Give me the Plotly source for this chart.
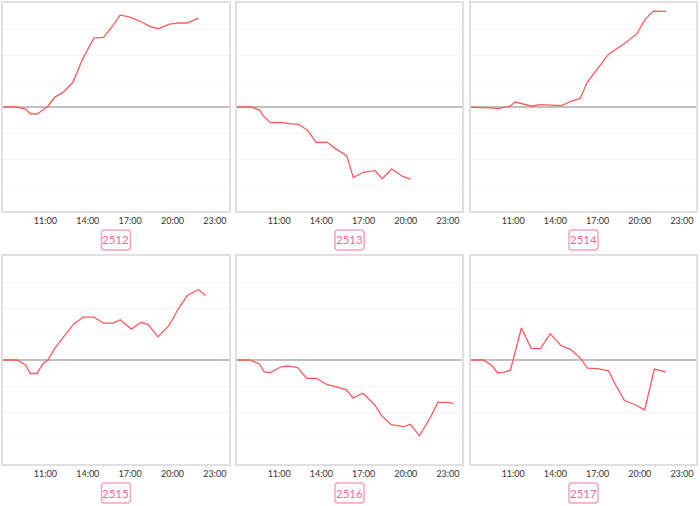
import plotly.graph_objects as go

DAY = "2024-01-01 "

# ---- data (time HH:MM, relative change) ----
t_2512 = ["08:00","08:57","09:36","09:56","10:25","10:50","11:11","11:40","12:15","12:57","13:40","14:26","15:07","15:47","16:18","16:58","17:47","18:23","18:58","19:47","20:23","21:03","21:50"]
v_2512 = [0, 0, -0.08, -0.26, -0.27, -0.10, 0.03, 0.38, 0.56, 0.95, 1.88, 2.65, 2.68, 3.13, 3.54, 3.46, 3.28, 3.10, 3.01, 3.19, 3.23, 3.23, 3.42]

t_2513 = ["08:00","09:00","09:37","09:53","10:22","11:11","11:40","12:22","12:58","13:38","14:23","15:05","15:48","16:16","16:59","17:49","18:20","19:00","19:49","20:22"]
v_2513 = [0, 0, -0.12, -0.35, -0.60, -0.59, -0.64, -0.67, -0.87, -1.36, -1.35, -1.63, -1.87, -2.71, -2.51, -2.45, -2.76, -2.38, -2.68, -2.77]

t_2514 = ["08:00","08:54","09:22","09:58","10:26","10:48","11:09","11:45","12:20","12:56","13:38","14:28","15:04","15:46","16:15","16:58","17:47","18:51","19:48","20:23","20:59","21:52"]
v_2514 = [-0.01, -0.01, -0.03, -0.06, 0, 0.04, 0.19, 0.10, 0.03, 0.09, 0.08, 0.05, 0.22, 0.33, 0.94, 1.47, 2.03, 2.41, 2.82, 3.37, 3.69, 3.68]

t_2515 = ["08:00","09:00","09:36","09:56","10:25","10:50","11:11","11:40","12:15","12:57","13:40","14:26","15:07","15:47","16:18","17:05","17:47","18:16","18:58","19:47","20:23","21:03","21:50","22:20"]
v_2515 = [0, 0, -0.19, -0.52, -0.52, -0.13, 0, 0.45, 0.86, 1.35, 1.65, 1.65, 1.42, 1.42, 1.55, 1.19, 1.45, 1.37, 0.89, 1.35, 1.94, 2.48, 2.71, 2.48]

t_2516 = ["08:00","08:54","09:36","09:55","10:21","11:08","11:37","12:19","12:57","13:40","14:23","15:05","15:47","16:15","16:58","17:47","18:17","18:58","19:52","20:20","20:58","21:45","22:17","22:56","23:24"]
v_2516 = [0, 0, -0.15, -0.45, -0.49, -0.26, -0.23, -0.29, -0.71, -0.71, -0.94, -1.03, -1.15, -1.46, -1.28, -1.72, -2.14, -2.49, -2.56, -2.47, -2.92, -2.21, -1.63, -1.63, -1.67]

t_2517 = ["08:00","08:54","09:32","09:54","10:22","10:48","11:35","12:17","12:56","13:38","14:24","15:04","15:46","16:17","17:00","17:47","18:20","18:55","19:41","20:21","21:02","21:52"]
v_2517 = [0, 0, -0.24, -0.50, -0.47, -0.40, 1.23, 0.45, 0.44, 1.01, 0.55, 0.41, 0.08, -0.31, -0.33, -0.42, -1.01, -1.56, -1.72, -1.92, -0.35, -0.46]

names = ["2512", "2513", "2514", "2515", "2516", "2517"]
times = [t_2512, t_2513, t_2514, t_2515, t_2516, t_2517]
values = [v_2512, v_2513, v_2514, v_2515, v_2516, v_2517]

tick_labels = ["11:00", "14:00", "17:00", "20:00", "23:00"]
x_start, x_end = "08:00", "24:00"
y_min, y_max = -4, 4

# ---- layout geometry (pixels) ----
W, H = 700, 506
col_px = [(3, 229), (237, 462), (471, 696)]
row_px = [(3, 211), (256, 464)]
label_y_px = [240, 493]

line_color = "#ff5a5a"
pink = "#f06a95"

fig = go.Figure()
layout = dict(
    width=W, height=H, margin=dict(l=0, r=0, t=0, b=0),
    paper_bgcolor="white", plot_bgcolor="white", showlegend=False,
    font=dict(family="Lato, Noto Sans, sans-serif", size=9, color="#333"),
)
annotations = []
shapes = []

def px(x): return x / W
def py(y): return 1 - y / H

for i, (name, ts, vs) in enumerate(zip(names, times, values)):
    r, c = divmod(i, 3)
    k = i + 1
    xs = [DAY + t for t in ts]
    fig.add_trace(go.Scatter(
        x=xs, y=vs, mode="lines",
        line=dict(color=line_color, width=1.3),
        xaxis=f"x{k}", yaxis=f"y{k}", hoverinfo="skip",
    ))
    x0, x1 = col_px[c]
    y0, y1 = row_px[r]
    layout[f"xaxis{k}"] = dict(
        domain=[x0 / W, x1 / W], anchor=f"y{k}", type="date",
        range=[DAY + x_start, "2024-01-02 00:00"],
        tickvals=[DAY + t for t in tick_labels], ticktext=tick_labels,
        showgrid=False, zeroline=False,
        showline=True, mirror=True, linecolor="#e0e0e0", linewidth=2,
        ticks="", tickfont=dict(size=9, color="#333"),
    )
    layout[f"yaxis{k}"] = dict(
        domain=[1 - y1 / H, 1 - y0 / H], anchor=f"x{k}",
        range=[y_min, y_max], dtick=1, showticklabels=False,
        showgrid=True, gridcolor="#f6f6f6", gridwidth=1,
        zeroline=True, zerolinecolor="#c0c0c0", zerolinewidth=1.5,
        showline=True, mirror=True, linecolor="#e0e0e0", linewidth=2,
        ticks="",
    )
    annotations.append(dict(
        text=name, x=px((x0 + x1) / 2), y=py(label_y_px[r]),
        xref="paper", yref="paper",
        xanchor="center", yanchor="middle", showarrow=False,
        font=dict(size=11.5, color=pink, family="Lato, Noto Sans, sans-serif"),
    ))
    # rounded label box
    bw, bh, rad = 29, 20, 3
    lx0 = (x0 + x1) / 2 - bw / 2
    lx1 = lx0 + bw
    ly0 = label_y_px[r] - bh / 2
    ly1 = ly0 + bh
    path = (
        f"M {px(lx0+rad)} {py(ly0)} L {px(lx1-rad)} {py(ly0)} "
        f"Q {px(lx1)} {py(ly0)} {px(lx1)} {py(ly0+rad)} "
        f"L {px(lx1)} {py(ly1-rad)} Q {px(lx1)} {py(ly1)} {px(lx1-rad)} {py(ly1)} "
        f"L {px(lx0+rad)} {py(ly1)} Q {px(lx0)} {py(ly1)} {px(lx0)} {py(ly1-rad)} "
        f"L {px(lx0)} {py(ly0+rad)} Q {px(lx0)} {py(ly0)} {px(lx0+rad)} {py(ly0)} Z"
    )
    shapes.append(dict(type="path", path=path, xref="paper", yref="paper",
                       line=dict(color="#f9a3bd", width=1.5), fillcolor="rgba(0,0,0,0)"))

layout["annotations"] = annotations
layout["shapes"] = shapes
fig.update_layout(**layout)
fig.write_html(
    "out.html",
    config={"displayModeBar": False},
    post_script="document.body.style.margin='0';document.body.style.overflow='hidden';",
)
